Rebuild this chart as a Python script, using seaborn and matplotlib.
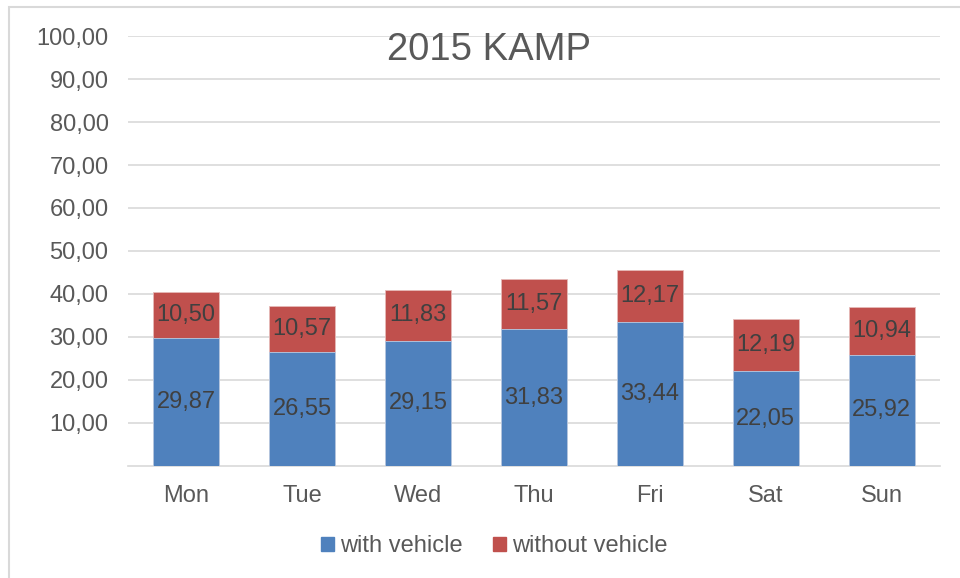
import pandas as pd
import seaborn as sns
import matplotlib.pyplot as plt
from matplotlib.patches import Rectangle

# Chart data
days = ["Mon", "Tue", "Wed", "Thu", "Fri", "Sat", "Sun"]
with_vehicle = [29.87, 26.55, 29.15, 31.83, 33.44, 22.05, 25.92]
without_vehicle = [10.50, 10.57, 11.83, 11.57, 12.17, 12.19, 10.94]
y_ticks = [10, 20, 30, 40, 50, 60, 70, 80, 90, 100]

blue = "#4F81BD"
red = "#C0504D"
grey_text = "#595959"
label_text = "#404040"


def fmt(v):
    # comma as decimal separator
    return f"{v:.2f}".replace(".", ",")


sns.set_style("white")
plt.rcParams["font.family"] = ["Liberation Sans", "DejaVu Sans"]

df = pd.DataFrame({"day": days, "with": with_vehicle, "without": without_vehicle})
df["total"] = df["with"] + df["without"]

fig = plt.figure(figsize=(9.6, 5.78), dpi=100)
ax = fig.add_axes([0.1333, 0.1938, 0.8457, 0.7439])

# stacked bars: total behind, lower part on top
sns.barplot(data=df, x="day", y="total", color=red, width=0.57, saturation=1, ax=ax, zorder=3,
            edgecolor="#E6B9B8", linewidth=0.6)
sns.barplot(data=df, x="day", y="with", color=blue, width=0.57, saturation=1, ax=ax, zorder=3,
            edgecolor="#B9CDE5", linewidth=0.6)

# segment labels
for i, row in df.iterrows():
    ax.text(i, row["with"] / 2, fmt(row["with"]), ha="center", va="center",
            fontsize=17, color=label_text, zorder=5)
    ax.text(i, row["with"] + row["without"] / 2, fmt(row["without"]), ha="center", va="center",
            fontsize=17, color=label_text, zorder=5)

ax.set_ylim(0, 100)
ax.set_xlim(-0.5, 6.5)
ax.set_yticks(y_ticks)
ax.set_yticklabels([fmt(t) for t in y_ticks], fontsize=17, color=grey_text)
ax.tick_params(axis="x", labelsize=17, labelcolor=grey_text, length=0, pad=14)
ax.tick_params(axis="y", length=0, pad=14)
ax.set_xlabel("")
ax.set_ylabel("")
ax.yaxis.grid(True, color="#D9D9D9", linewidth=1.2, zorder=0)
ax.set_axisbelow(True)
sns.despine(ax=ax, left=True, right=True, top=True)
ax.spines["bottom"].set_color("#D9D9D9")
ax.spines["bottom"].set_linewidth(1.2)

fig.text(489 / 960, 1 - 50 / 578, "2015 KAMP", ha="center", va="center",
         fontsize=27.5, color=grey_text)

# legend
handles = [Rectangle((0, 0), 1, 1, color=blue), Rectangle((0, 0), 1, 1, color=red)]
fig.legend(handles, ["with vehicle", "without vehicle"], loc="center", bbox_to_anchor=(0.515, 1 - 546 / 578),
           ncol=2, frameon=False, fontsize=17, labelcolor=grey_text, handlelength=0.55,
           handleheight=0.55, handletextpad=0.25, columnspacing=1.3)

# chart border
fig.patches.append(Rectangle((9 / 960, -0.1), 1.2, 1 - 7 / 578 + 0.1, transform=fig.transFigure,
                             fill=False, edgecolor="#D9D9D9", linewidth=1.5))

fig.savefig("out.png", dpi=100)
